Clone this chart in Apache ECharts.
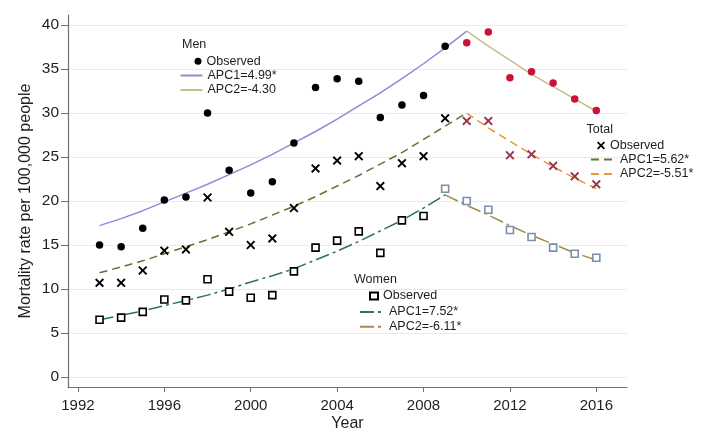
<!DOCTYPE html>
<html>
<head>
<meta charset="utf-8">
<script src="https://cdn.jsdelivr.net/npm/echarts@6/dist/echarts.min.js"></script>
<style>
html,body{margin:0;padding:0;background:#fff;}
#chart{width:703px;height:447px;}
</style>
</head>
<body>
<div id="chart"></div>
<script>
// ---- data ----
const years = [1993,1994,1995,1996,1997,1998,1999,2000,2001,2002,2003,2004,2005,2006,2007,2008,2009,2010,2011,2012,2013,2014,2015,2016];
const xTicks = [1992,1996,2000,2004,2008,2012,2016];
const yTicks = [0,5,10,15,20,25,30,35,40];

// Men observed: 1993-2009 (black), 2010-2016 (red)
const menObsEarly = [15.0,14.8,16.9,20.1,20.45,30.0,23.5,20.9,22.2,26.6,32.9,33.9,33.6,29.5,30.9,32.0,37.6];
const menObsLate  = [38.0,39.2,34.0,34.7,33.4,31.6,30.3];
// Men fitted: APC1 1993-2010, APC2 2010-2016
const menApc1 = [17.2,18.0,18.9,19.9,20.9,21.9,23.0,24.1,25.3,26.6,27.9,29.3,30.8,32.3,33.9,35.6,37.4,39.3];
const menApc2 = [39.3,37.6,36.0,34.4,33.0,31.6,30.2];

// Total observed: 1993-2009 (black), 2010-2016 (dark red)
const totObsEarly = [10.7,10.7,12.1,14.35,14.5,20.4,16.5,15.0,15.75,19.2,23.7,24.6,25.1,21.7,24.3,25.1,29.4];
const totObsLate  = [29.1,29.1,25.2,25.3,24.0,22.8,21.9];
const totApc1 = [11.85,12.5,13.2,14.0,14.8,15.6,16.5,17.4,18.4,19.4,20.5,21.7,22.9,24.2,25.5,27.0,28.5,30.0];
const totApc2 = [30.0,28.3,26.8,25.3,23.9,22.6,21.4];

// Women observed: 1993-2008 (black), 2009-2016 (grey-blue)
const womObsEarly = [6.5,6.75,7.4,8.8,8.7,11.1,9.7,9.0,9.3,12.0,14.7,15.5,16.55,14.1,17.8,18.3];
const womObsLate  = [21.4,20.0,19.0,16.7,15.9,14.7,14.0,13.55];
// Women fitted: APC1 1993-2009, APC2 2009-2016
const womApc1 = [6.5,7.0,7.5,8.1,8.7,9.3,10.0,10.8,11.5,12.3,13.3,14.3,15.4,16.6,17.8,19.2,20.7];
const womApc2 = [20.7,19.5,18.4,17.2,16.1,15.1,14.1,13.3];

const labels = {
  'Men Observed':'Observed','Men APC1':'APC1=4.99*','Men APC2':'APC2=-4.30',
  'Total Observed':'Observed','Total APC1':'APC1=5.62*','Total APC2':'APC2=-5.51*',
  'Women Observed':'Observed','Women APC1':'APC1=7.52*','Women APC2':'APC2=-6.11*'
};

// ---- helpers ----
function pairs(yrs, vals){ return vals.map((v,i)=>[yrs[i], v]); }
const yrs = (from, n) => years.slice(years.indexOf(from), years.indexOf(from)+n);

const FONT = '"Liberation Sans", Arial, sans-serif';
const TXT = '#1e1e1e';
const XPATH = 'path://M0,1.5L1.5,0L5,3.5L8.5,0L10,1.5L6.5,5L10,8.5L8.5,10L5,6.5L1.5,10L0,8.5L3.5,5Z';

function lineSeries(name, startYear, vals, color, type){
  return {name, type:'line', data: pairs(yrs(startYear, vals.length), vals), symbol:'none', showSymbol:false,
    lineStyle:{color, width:1.5, type}, itemStyle:{color}, z:2, silent:true, animation:false};
}
function scatterSeries(name, startYear, vals, symbol, size, color, borderColor, borderWidth){
  const s = {name, type:'scatter', data: pairs(yrs(startYear, vals.length), vals), symbol, symbolSize:size,
    itemStyle:{color, opacity:1}, z:3, silent:true, animation:false};
  if (borderColor){ s.itemStyle.borderColor = borderColor; s.itemStyle.borderWidth = borderWidth; }
  return s;
}

const series = [
  lineSeries('Men APC1', 1993, menApc1, '#9488d6', 'solid'),
  lineSeries('Men APC2', 2010, menApc2, '#c6bd8c', 'solid'),
  lineSeries('Total APC1', 1993, totApc1, '#557a30', [8,5]),
  lineSeries('Total APC2', 2010, totApc2, '#ee9433', [8,5]),
  lineSeries('Women APC1', 1993, womApc1, '#2b7264', [14,4,3,4]),
  lineSeries('Women APC2', 2009, womApc2, '#a58a4c', [14,4,3,4]),
  scatterSeries('Men Observed', 1993, menObsEarly, 'circle', 7.5, '#000'),
  scatterSeries('Men Observed late', 2010, menObsLate, 'circle', 7.5, '#cc1038'),
  scatterSeries('Total Observed', 1993, totObsEarly, XPATH, 9, '#000'),
  scatterSeries('Total Observed late', 2010, totObsLate, XPATH, 9, '#9a3448'),
  scatterSeries('Women Observed', 1993, womObsEarly, 'rect', 7, '#fff', '#000', 1.6),
  scatterSeries('Women Observed late', 2009, womObsLate, 'rect', 7, '#fff', '#7a90aa', 1.6)
];

function legend(names, left, top, w, h, gap, hideSymbol){
  const l = {data:names, orient:'vertical', left, top, itemWidth:w, itemHeight:h, itemGap:gap, padding:0,
    selectedMode:false, formatter:(n)=>labels[n], textStyle:{fontFamily:FONT, fontSize:12.5, color:TXT},
    inactiveColor:'#000'};
  if (hideSymbol) l.itemStyle = {opacity:0};
  return l;
}
function ttl(text, left, top){
  return {text, left, top, padding:0, textStyle:{fontFamily:FONT, fontSize:12.5, fontWeight:'normal', color:TXT}};
}

const option = {
  animation:false,
  backgroundColor:'#fff',
  grid:{left:68, right:76, top:15, bottom:60, outerBoundsMode:'none', containLabel:false},
  title:[ ttl('Men',182,38.5), ttl('Total',586.5,123.5), ttl('Women',354,273) ],
  legend:[
    legend(['Men Observed'], 194.5, 54.75, 7, 7, 0, false),
    legend(['Men APC1','Men APC2'], 179.5, 69, 22, 10, 1.5, true),
    legend(['Total Observed'], 597, 139, 8, 8, 0, false),
    legend(['Total APC1','Total APC2'], 590, 153, 24, 10, 1.5, true),
    legend(['Women Observed'], 369, 289.5, 8, 7, 0, false),
    legend(['Women APC1','Women APC2'], 359, 305.5, 24, 10, 1.8, true)
  ],
  xAxis:{type:'value', min:1991.54, max:2017.42, name:'Year', nameLocation:'middle', nameGap:29, nameMoveOverlap:false,
    nameTextStyle:{fontFamily:FONT, fontSize:16, color:TXT},
    axisLine:{show:true, onZero:false, lineStyle:{color:'#707070', width:1.2}},
    axisTick:{show:true, length:5, customValues:xTicks, lineStyle:{color:'#707070'}},
    axisLabel:{customValues:xTicks, margin:11, fontFamily:FONT, fontSize:15, color:TXT, formatter:(v)=>String(v)},
    splitLine:{show:false}},
  yAxis:{type:'value', min:-1.14, max:41.14, name:'Mortality rate per 100,000 people', nameLocation:'middle', nameGap:34, nameMoveOverlap:false,
    nameTextStyle:{fontFamily:FONT, fontSize:16, color:TXT},
    axisLine:{show:true, onZero:false, lineStyle:{color:'#707070', width:1.2}},
    axisTick:{show:true, length:7, customValues:yTicks, lineStyle:{color:'#707070'}},
    axisLabel:{customValues:yTicks, margin:9, fontFamily:FONT, fontSize:15.5, color:TXT, formatter:(v)=>String(v)},
    splitLine:{show:true, lineStyle:{color:'#e4ecef', width:1}}},
  series
};

const chart = echarts.init(document.getElementById('chart'), null, {renderer:'canvas'});
chart.setOption(option);
</script>
</body>
</html>
